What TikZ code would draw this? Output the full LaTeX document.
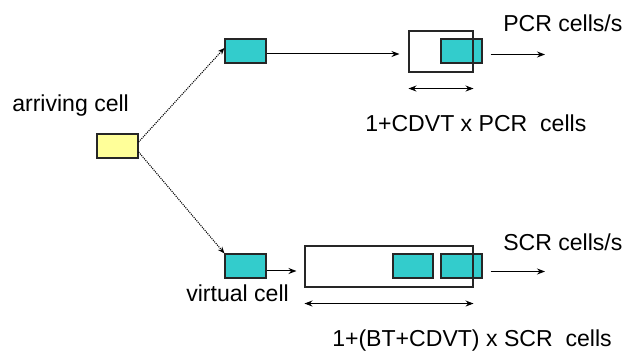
\documentclass[tikz,border=0pt]{standalone}
\usepackage{fontspec}
\setmainfont{Liberation Sans}
\usetikzlibrary{arrows.meta}
\definecolor{tealc}{RGB}{51,204,204}
\definecolor{yelc}{RGB}{255,255,153}
\begin{document}
\begin{tikzpicture}[x=0.75pt,y=-0.75pt,
  cellbox/.style={draw=black!85, line width=0.9pt, minimum width=30.75pt, minimum height=18pt, inner sep=0pt, fill=tealc},
  bufbox/.style={draw=black!85, line width=0.8pt, minimum height=30.75pt, inner sep=0pt},
  lbl/.style={anchor=base west, inner sep=0pt, font=\fontsize{17.3pt}{20pt}\selectfont},
  arr/.style={line width=0.75pt, -{Stealth[length=6pt,width=4.5pt]}},
  darr/.style={line width=0.75pt, {Stealth[length=6pt,width=4.5pt]}-{Stealth[length=6pt,width=4.5pt]}},
  dotarr/.style={line width=0.8pt, dash pattern=on 0.8pt off 0.8pt, -{Stealth[length=5pt,width=4pt]}}]
\useasboundingbox (0,0) rectangle (628,352);
% cells
\node[cellbox, fill=yelc] (arr) at (117.5,146) {};
\node[cellbox] (tc) at (245.5,51) {};
\node[cellbox] (bc) at (245.5,266) {};
\node[cellbox] (tcell) at (461.5,51) {};
\node[cellbox, minimum width=30pt] (bcell1) at (413,266) {};
\node[cellbox] (bcell2) at (461.5,266) {};
% buffers (outline over cells)
\node[bufbox, minimum width=48pt] (tbuf) at (441,51.5) {};
\node[bufbox, minimum width=126pt] (bbuf) at (389,266.5) {};
% dotted arrows
\coordinate (a1) at ([yshift=3pt]arr.east);
\coordinate (a2) at ([yshift=-4.5pt]arr.east);
\draw[dotarr] (a1) -- ([yshift=2.25pt]tc.west);
\draw[dotarr] (a2) -- (bc.north west);
% horizontal arrows
\coordinate (ts) at ([yshift=-2.25pt]tc.east);
\coordinate (bs) at ([yshift=-3.75pt]bc.east);
\coordinate (tw) at ([xshift=-6.75pt]tbuf.west);
\coordinate (bw) at ([xshift=-6pt]bbuf.west);
\draw[arr] (ts) -- (tw |- ts);
\draw[arr] (bs) -- (bw |- bs);
\coordinate (to) at (545,54.5);
\coordinate (bo) at (545,271.5);
\coordinate (tce) at ([xshift=6pt]tcell.east);
\coordinate (bce) at ([xshift=6pt]bcell2.east);
\draw[arr] (tce |- to) -- (to);
\draw[arr] (bce |- bo) -- (bo);
% size arrows
\draw[darr] ([yshift=-12pt]tbuf.south west) -- ([yshift=-12pt]tbuf.south east);
\draw[darr] ([yshift=-12pt]bbuf.south west) -- ([yshift=-12pt]bbuf.south east);
% labels
\node[lbl] (tarr) at (12,112) {arriving cell};
\node[lbl] (tpcr) at (503,32) {PCR cells/s};
\node[lbl] (tpcrb) at (365,132) {1+CDVT x PCR\ \ cells};
\node[lbl] (tscr) at (503,251) {SCR cells/s};
\node[lbl] (tvirt) at (186,302) {virtual cell};
\node[lbl] (tscrb) at (332,346.5) {1+(BT+CDVT) x SCR\ \ cells};
\end{tikzpicture}
\end{document}
